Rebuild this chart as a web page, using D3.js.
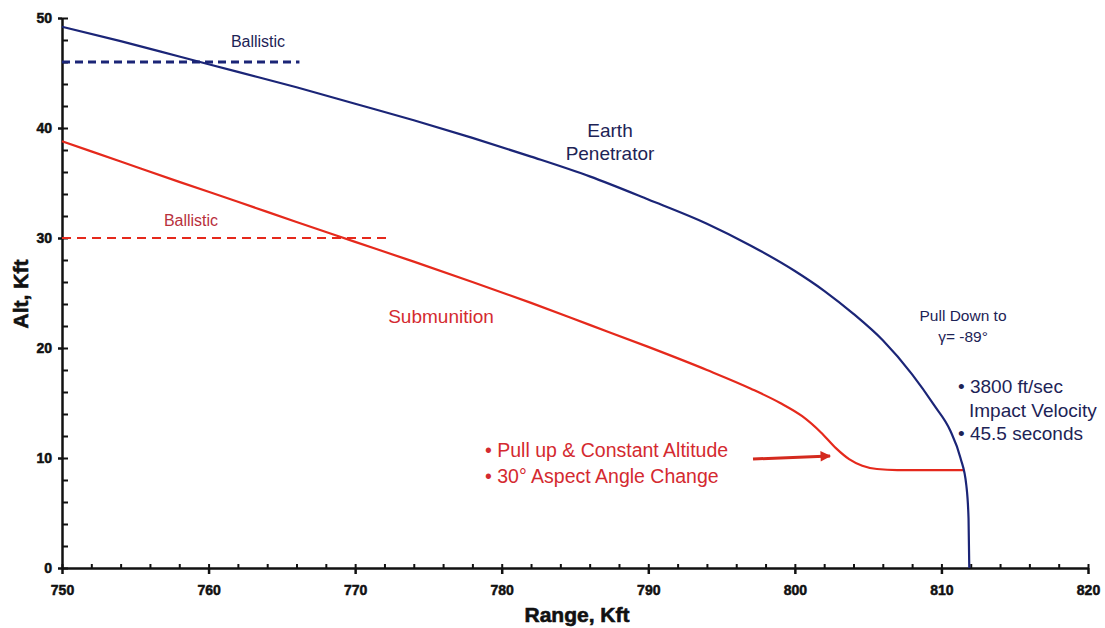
<!DOCTYPE html>
<html>
<head>
<meta charset="utf-8">
<script src="https://cdn.jsdelivr.net/npm/d3@7/dist/d3.min.js"></script>
<style>
  html, body { margin: 0; padding: 0; background: #fff; }
  svg { display: block; font-family: "Liberation Sans", Arial, sans-serif; }
  .tick text { font-weight: bold; font-size: 14px; fill: #111; stroke: #111; stroke-width: 0.5px; }
</style>
</head>
<body>
<svg id="chart" width="1105" height="628"></svg>
<script>
// Trajectory data: range (kft) and altitude (kft)
const penetratorRange = [750, 754, 758, 762, 766, 770, 774, 778, 782, 786, 790, 794, 797, 800, 802, 804, 806, 808, 809.5, 810.6, 811.3, 811.7, 811.85, 811.9];
const penetratorAlt   = [49.2, 47.9, 46.5, 45.1, 43.7, 42.2, 40.7, 39.1, 37.4, 35.6, 33.5, 31.3, 29.3, 27.0, 25.2, 23.1, 20.7, 17.6, 14.8, 12.5, 10.0, 7.5, 4.5, 0];

const submunitionRange = [750, 754, 758, 762, 766, 770, 774, 778, 782, 786, 790, 794, 797, 799, 800.5, 801.8, 802.8, 803.7, 804.6, 805.6, 807, 811.5];
const submunitionAlt   = [38.8, 36.95, 35.1, 33.3, 31.45, 29.65, 27.85, 26.0, 24.1, 22.1, 20.1, 18.0, 16.3, 15.0, 13.8, 12.3, 10.9, 9.9, 9.3, 9.0, 8.9, 8.9];

// Ballistic reference altitudes
const ballisticPenetratorRange = [750, 766.2];
const ballisticPenetratorAlt = [46, 46];
const ballisticSubmunitionRange = [750, 772.2];
const ballisticSubmunitionAlt = [30, 30];

// Axis ticks
const xMajor = [750, 760, 770, 780, 790, 800, 810, 820];
const yMajor = [0, 10, 20, 30, 40, 50];
const xMinor = d3.range(750, 821, 2);
const yMinor = d3.range(0, 51, 2);

const svg = d3.select("#chart");
const x = d3.scaleLinear().domain([750, 820]).range([62, 1088]);
const y = d3.scaleLinear().domain([0, 50]).range([568, 18]);

const navy = "#1b2577";
const navyText = "#1d2356";
const red = "#e5291c";
const redText = "#d42a30";
const noLabel = () => "";

// Axes: minor ticks point inward, major ticks cross the axis line
const axisColor = "#111";
svg.append("g").attr("transform", `translate(0,${y(0)})`)
  .call(d3.axisBottom(x).tickValues(xMinor).tickSize(-4).tickSizeOuter(0).tickFormat(noLabel))
  .call(g => g.select(".domain").remove())
  .call(g => g.selectAll("line").attr("stroke", axisColor).attr("stroke-width", 2));
svg.append("g").attr("transform", `translate(0,${y(0)})`)
  .call(d3.axisBottom(x).tickValues(xMajor).tickSize(6).tickSizeOuter(0).tickPadding(11).tickFormat(d3.format("d")))
  .call(g => g.select(".domain").attr("stroke", axisColor).attr("stroke-width", 2.5))
  .call(g => g.selectAll("line").attr("stroke", axisColor).attr("stroke-width", 2.5));

svg.append("g").attr("transform", `translate(${x(750)},0)`)
  .call(d3.axisLeft(y).tickValues(yMinor).tickSize(-6).tickSizeOuter(0).tickFormat(noLabel))
  .call(g => g.select(".domain").remove())
  .call(g => g.selectAll("line").attr("stroke", axisColor).attr("stroke-width", 2));
svg.append("g").attr("transform", `translate(${x(750)},0)`)
  .call(d3.axisLeft(y).tickValues(yMajor).tickSize(4).tickSizeOuter(0).tickPadding(6).tickFormat(d3.format("d")))
  .call(g => g.select(".domain").attr("stroke", axisColor).attr("stroke-width", 2.5))
  .call(g => g.selectAll("line").attr("stroke", axisColor).attr("stroke-width", 2.5));

// Axis titles
svg.append("text").attr("x", 577).attr("y", 622).attr("text-anchor", "middle")
  .attr("font-size", 21).attr("font-weight", "bold").attr("fill", "#111")
  .attr("stroke", "#111").attr("stroke-width", 0.6)
  .text("Range, Kft");
svg.append("text").attr("transform", "translate(28,294) rotate(-90)").attr("text-anchor", "middle")
  .attr("font-size", 21).attr("font-weight", "bold").attr("fill", "#111")
  .attr("stroke", "#111").attr("stroke-width", 0.6)
  .text("Alt, Kft");

// Lines
const zip = (a, b) => a.map((v, i) => [v, b[i]]);
const straight = d3.line().x(d => x(d[0])).y(d => y(d[1]));
const smooth = d3.line().x(d => x(d[0])).y(d => y(d[1])).curve(d3.curveMonotoneX);

svg.append("path").datum(zip(ballisticPenetratorRange, ballisticPenetratorAlt))
  .attr("d", straight).attr("fill", "none").attr("stroke", navy).attr("stroke-width", 3)
  .attr("stroke-dasharray", "8,5");
svg.append("path").datum(zip(ballisticSubmunitionRange, ballisticSubmunitionAlt))
  .attr("d", straight).attr("fill", "none").attr("stroke", red).attr("stroke-width", 2)
  .attr("stroke-dasharray", "9,6");

svg.append("path").datum(zip(submunitionRange, submunitionAlt))
  .attr("d", smooth).attr("fill", "none").attr("stroke", red).attr("stroke-width", 2.2);
svg.append("path").datum(zip(penetratorRange, penetratorAlt))
  .attr("d", smooth).attr("fill", "none").attr("stroke", navy).attr("stroke-width", 2.2);

// Annotations
function label(lines, x0, y0, size, color, anchor, lh) {
  const t = svg.append("text").attr("font-size", size).attr("fill", color).attr("text-anchor", anchor);
  lines.forEach((s, i) => t.append("tspan").attr("x", x0).attr("y", y0 + i * lh).text(s));
  return t;
}
label(["Ballistic"], 258, 47, 16, navyText, "middle", 0);
label(["Earth", "Penetrator"], 610, 137, 19, navyText, "middle", 23);
label(["Ballistic"], 191, 226, 16, "#b8303c", "middle", 0);
label(["Submunition"], 441, 323, 19, redText, "middle", 0);
label(["Pull Down to", "\u03b3= -89\u00b0"], 963, 321, 15.5, navyText, "middle", 21);
label(["\u2022 3800 ft/sec"], 958, 393, 19, navyText, "start", 0);
label(["Impact Velocity"], 969, 417, 19, navyText, "start", 0);
label(["\u2022 45.5 seconds"], 958, 440, 19, navyText, "start", 0);
label(["\u2022 Pull up & Constant Altitude", "\u2022 30\u00b0 Aspect Angle Change"], 485, 457, 19.5, redText, "start", 26);

// Arrow pointing to the pull-up
const defs = svg.append("defs");
defs.append("marker").attr("id", "head").attr("viewBox", "0 0 10 10")
  .attr("refX", 9).attr("refY", 5).attr("markerWidth", 5).attr("markerHeight", 3.5)
  .attr("markerUnits", "strokeWidth").attr("orient", "auto")
  .append("path").attr("d", "M0,0 L10,5 L0,10 Z").attr("fill", "#d42a1e");
svg.append("line").attr("x1", 753).attr("y1", 459).attr("x2", 830).attr("y2", 456)
  .attr("stroke", "#d42a1e").attr("stroke-width", 3).attr("marker-end", "url(#head)");
</script>
</body>
</html>
